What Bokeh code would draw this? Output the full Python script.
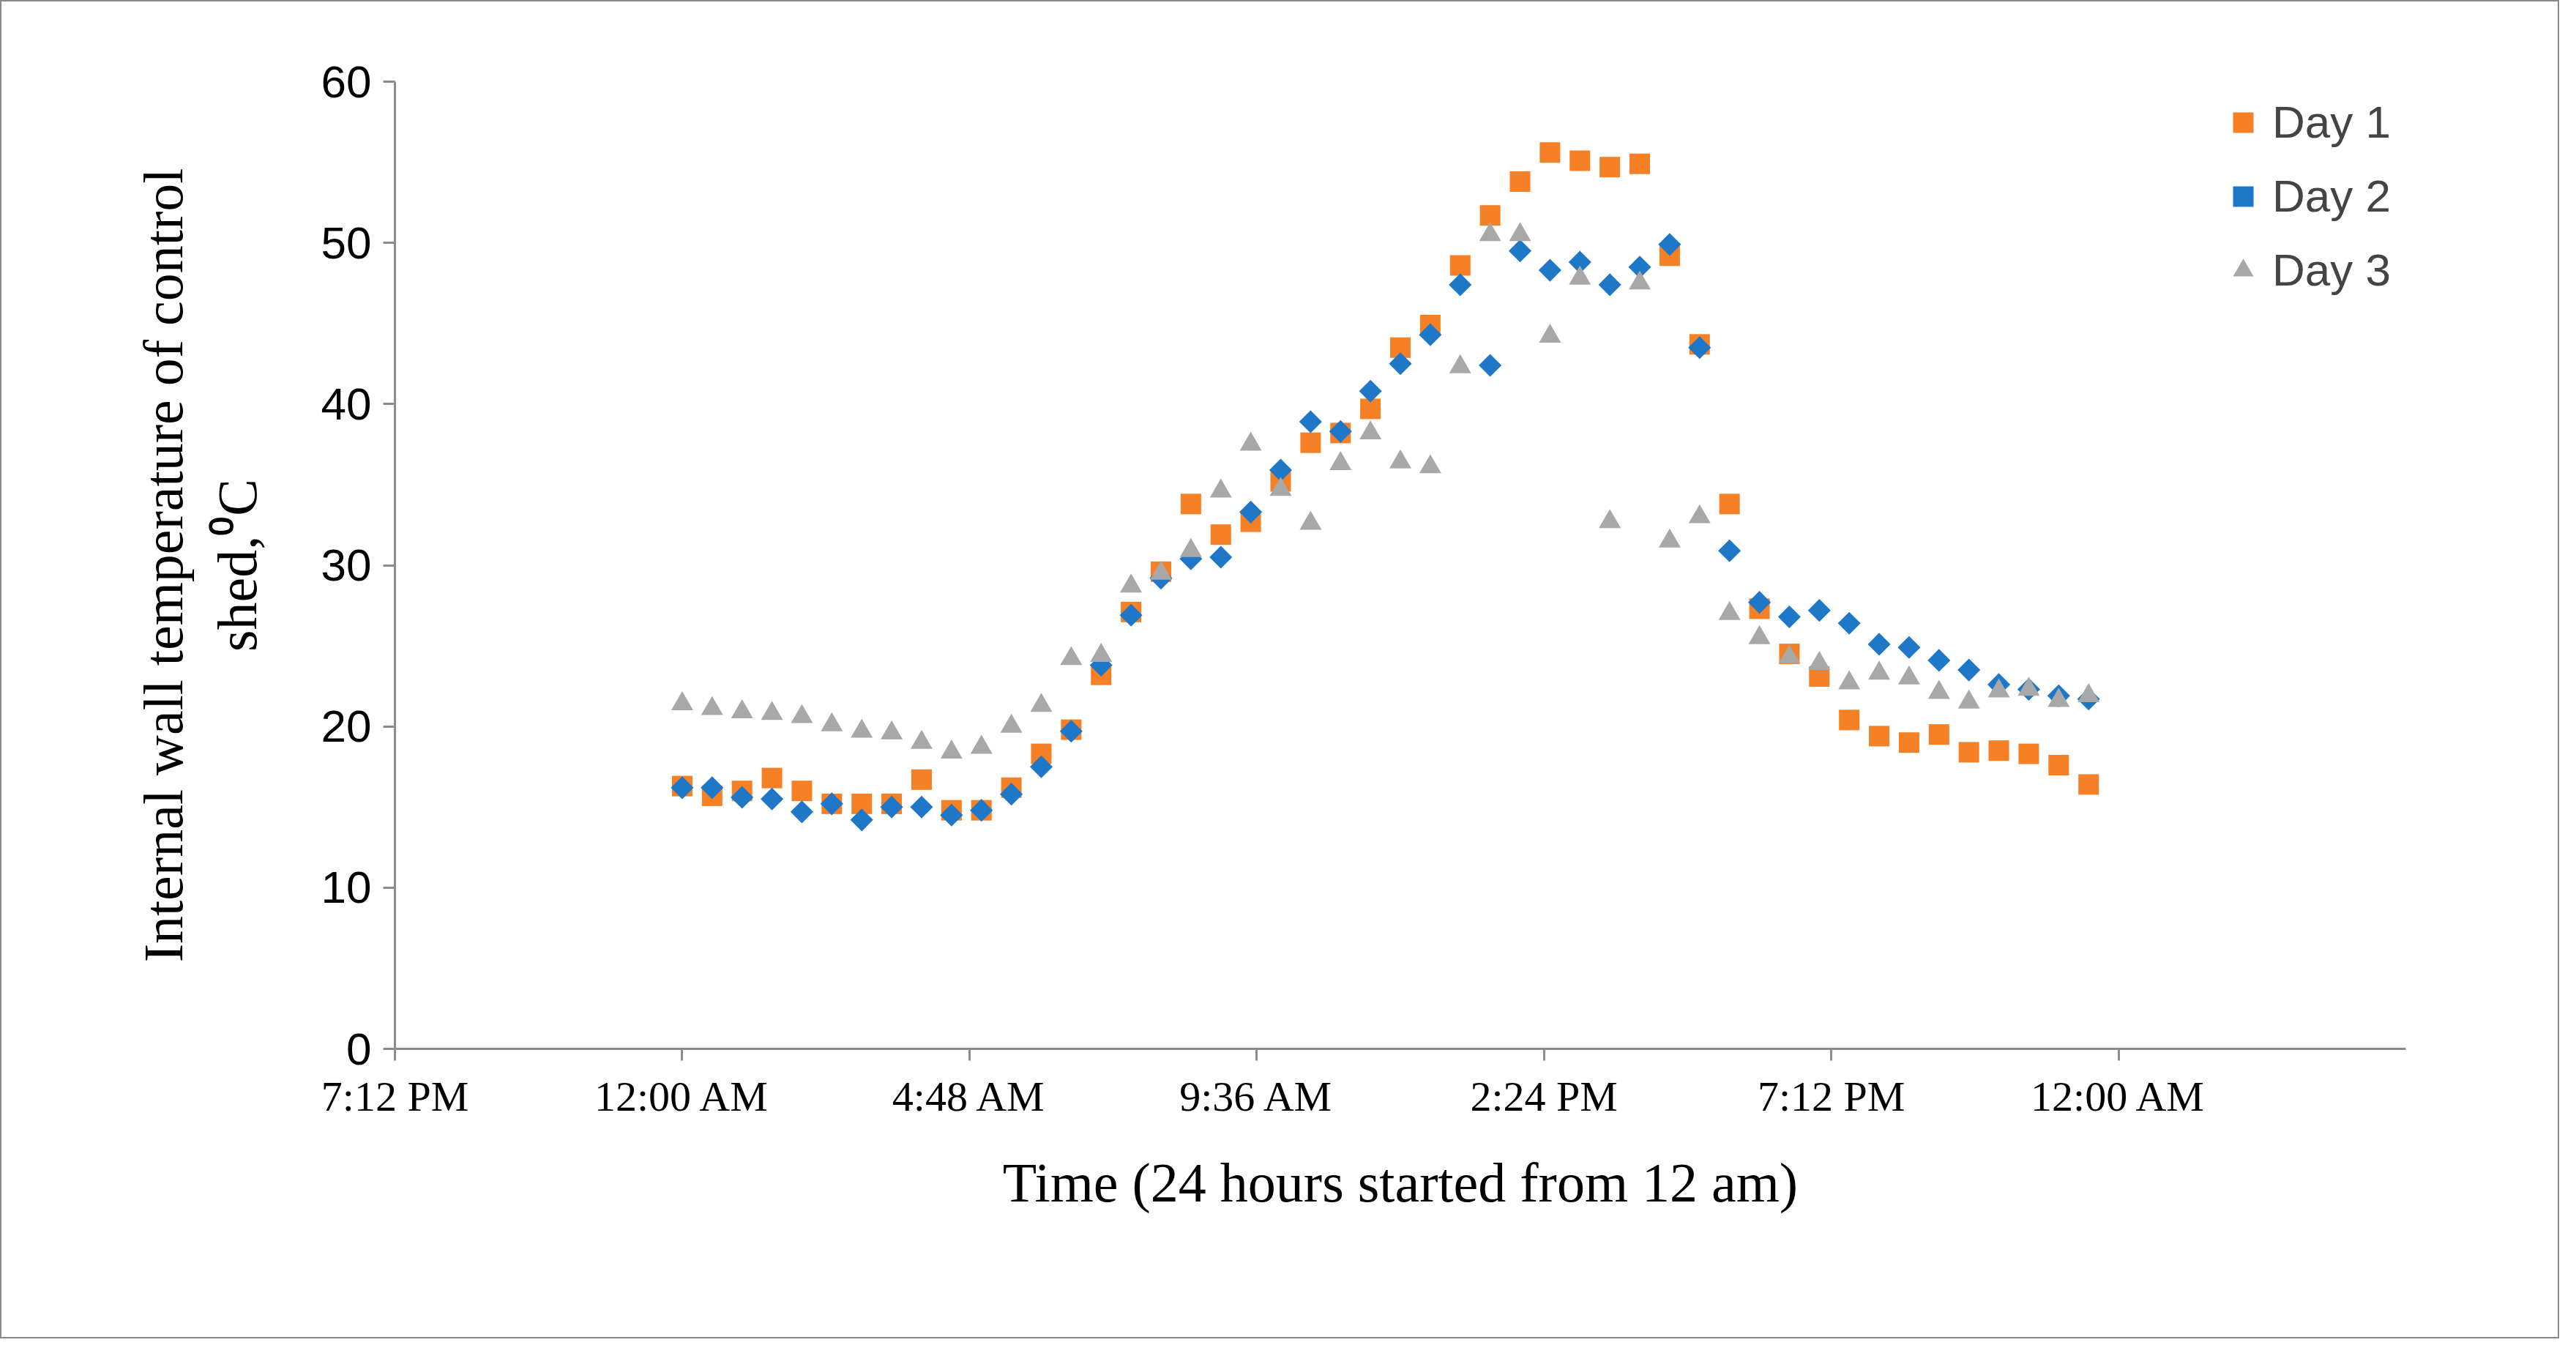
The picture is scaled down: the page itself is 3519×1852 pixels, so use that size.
from bokeh.plotting import figure
from bokeh.models import FixedTicker, Range1d, Legend, LegendItem
from bokeh.embed import file_html
from bokeh.resources import INLINE
import math

hours = [i * 0.5 for i in range(48)]
day1 = [16.3,15.7,16.0,16.8,16.0,15.2,15.2,15.2,16.7,14.8,14.8,16.2,18.3,19.8,23.2,27.1,29.6,33.8,31.9,32.7,
        35.2,37.6,38.2,39.7,43.5,44.9,48.6,51.7,53.8,55.6,55.1,54.7,54.9,49.2,43.7,33.8,27.3,24.5,23.1,20.4,
        19.4,19.0,19.5,18.4,18.5,18.3,17.6,16.4]
day2 = [16.2,16.2,15.6,15.5,14.7,15.2,14.2,15.0,15.0,14.5,14.8,15.8,17.5,19.7,23.8,26.9,29.2,30.4,30.5,33.3,
        35.9,38.9,38.3,40.8,42.5,44.3,47.4,42.4,49.5,48.3,48.8,47.4,48.5,49.9,43.5,30.9,27.7,26.8,27.2,26.4,
        25.1,24.9,24.1,23.5,22.6,22.3,21.9,21.7]
day3 = [21.4,21.1,20.9,20.8,20.6,20.1,19.7,19.6,19.0,18.4,18.7,20.0,21.3,24.2,24.4,28.7,29.5,30.9,34.6,37.5,
        34.7,32.6,36.3,38.2,36.4,36.1,42.3,50.5,50.5,44.2,47.8,32.7,47.5,31.5,33.0,27.0,25.5,24.3,23.9,22.7,
        23.3,23.0,22.1,21.5,22.2,22.3,21.6,21.9]
x_ticks = [-4.8, 0, 4.8, 9.6, 14.4, 19.2, 24.0]
x_labels = ["7:12 PM", "12:00 AM", "4:48 AM", "9:36 AM", "2:24 PM", "7:12 PM", "12:00 AM"]

p = figure(width=3496, height=1828, output_backend="svg", toolbar_location=None,
           x_range=Range1d(-4.8, 28.8), y_range=Range1d(0, 60),
           min_border_left=537, min_border_right=212, min_border_top=109, min_border_bottom=398)
p.styles = {"border": "2px solid #8a8a8a"}
p.outline_line_color = None
p.xgrid.visible = False
p.ygrid.visible = False

r1 = p.scatter(hours, day1, marker="square", size=28, color="#F58025", line_color=None)
r2 = p.scatter(hours, day2, marker="square", size=22, angle=math.pi / 4, color="#1F77C8", line_color=None)
r3 = p.scatter(hours, day3, marker="triangle", size=30, color="#A8A8A8", line_color=None)

p.xaxis.ticker = FixedTicker(ticks=x_ticks)
p.xaxis.major_label_overrides = {t: l for t, l in zip(x_ticks, x_labels)}
p.yaxis.ticker = FixedTicker(ticks=[0, 10, 20, 30, 40, 50, 60])
for ax in (p.xaxis[0], p.yaxis[0]):
    ax.axis_line_color = "#8c8c8c"
    ax.axis_line_width = 3
    ax.major_tick_line_color = "#8c8c8c"
    ax.major_tick_line_width = 3
    ax.major_tick_out = 16
    ax.major_tick_in = 0
    ax.minor_tick_line_color = None
    ax.major_label_text_color = "black"
p.xaxis.major_label_text_font = "Liberation Serif"
p.xaxis.major_label_text_font_size = "58px"
p.xaxis.major_label_standoff = 16
p.yaxis.major_label_text_font = "Liberation Sans"
p.yaxis.major_label_text_font_size = "62px"
p.yaxis.major_label_standoff = 16
p.xaxis.axis_label = "Time (24 hours started from 12 am)"
p.yaxis.axis_label = "Internal wall temperature of control\nshed,\u2070C"
for ax in (p.xaxis[0], p.yaxis[0]):
    ax.axis_label_text_font = "Liberation Serif"
    ax.axis_label_text_font_size = "76px"
    ax.axis_label_text_font_style = "normal"
    ax.axis_label_text_color = "black"
p.xaxis.axis_label_standoff = 40
p.yaxis.axis_label_standoff = 70

legend = Legend(items=[LegendItem(label="Day 1", renderers=[r1]),
                       LegendItem(label="Day 2", renderers=[r2]),
                       LegendItem(label="Day 3", renderers=[r3])],
                location="top_right", border_line_color=None, background_fill_alpha=0,
                label_text_font="Liberation Sans", label_text_font_size="62px",
                spacing=30, glyph_width=70, glyph_height=70, margin=20)
p.add_layout(legend)

open("out.html", "w").write(file_html(p, INLINE))
